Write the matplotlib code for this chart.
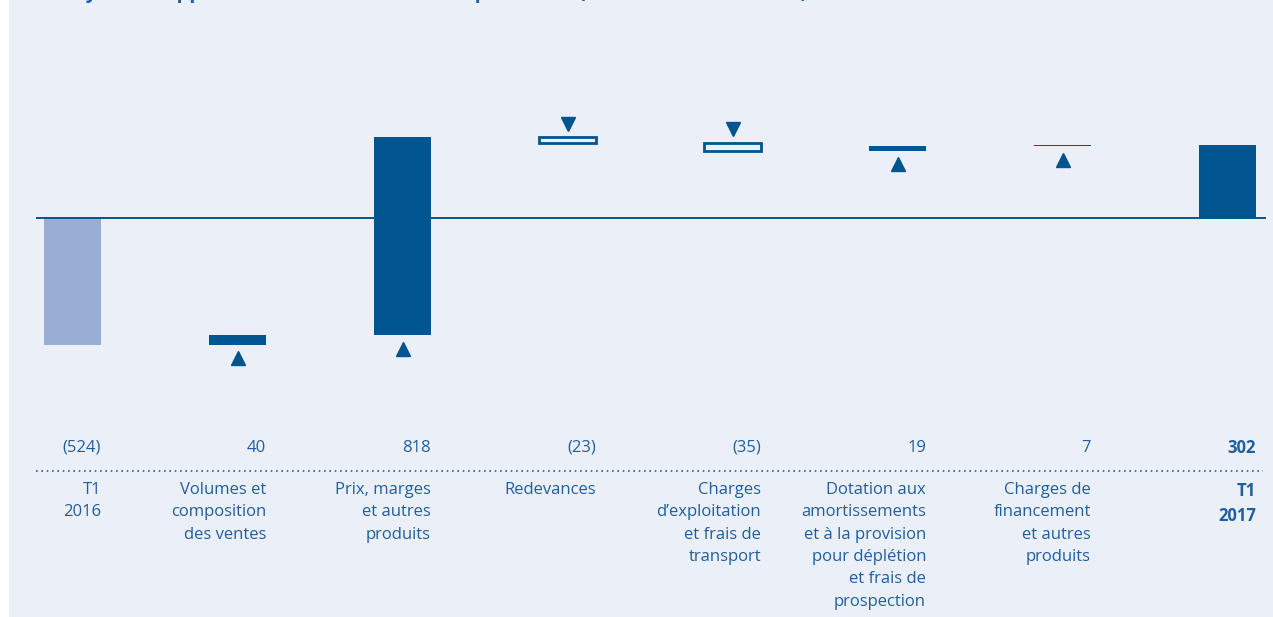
#!/usr/bin/env python3
"""Waterfall: rapprochement du résultat d'exploitation T1 2016 -> T1 2017."""
import matplotlib

matplotlib.use("Agg")
import matplotlib.pyplot as plt
from matplotlib.patches import Rectangle
from matplotlib.transforms import blended_transform_factory

plt.rcParams["font.family"] = ["Open Sans", "DejaVu Sans"]

CATEGORIES = [
    "T1\n2016",
    "Volumes et\ncomposition\ndes ventes",
    "Prix, marges\net autres\nproduits",
    "Redevances",
    "Charges\nd\u2019exploitation\net frais de\ntransport",
    "Dotation aux\namortissements\net à la provision\npour déplétion\net frais de\nprospection",
    "Charges de\nfinancement\net autres\nproduits",
    "T1\n2017",
]
VALUES = [-524, 40, 818, -23, -35, 19, 7, 302]
VALUE_LABELS = ["(524)", "40", "818", "(23)", "(35)", "19", "7", "302"]
KINDS = ["start", "delta", "delta", "delta", "delta", "delta", "delta", "total"]

BG = "#ebf0f8"
DARK = "#00548f"
LIGHT = "#99aed4"
TEXT = "#1f5f9f"

W, H = 1273, 617
fig = plt.figure(figsize=(W / 100, H / 100), dpi=100)
fig.patch.set_facecolor("white")
bg = Rectangle((9 / W, 0), 1 - 9 / W, 1, transform=fig.transFigure,
               facecolor=BG, edgecolor="none", zorder=-10)
fig.patches.append(bg)

ax = fig.add_axes([0, 0, 1, 1])
ax.set_facecolor("none")
ax.axis("off")
# pixel layout -> data limits (bar spacing 165 px, 0.2424 px per million)
px_per_unit = 0.2424
ax.set_xlim((0 - 72.5) / 165, (W - 72.5) / 165)
ax.set_ylim((218 - H) / px_per_unit, 218 / px_per_unit)

bw = 57 / 165
tri_gap = 55
running = 0
for i, (v, kind) in enumerate(zip(VALUES, KINDS)):
    if kind == "start":
        ax.bar(i, v, bottom=0, width=bw, color=LIGHT, zorder=2)
        running = v
    elif kind == "total":
        ax.bar(i, v, bottom=0, width=bw, color=DARK, zorder=2)
    else:
        lo, hi = sorted([running, running + v])
        if v >= 0:
            ax.bar(i, v, bottom=running, width=bw, color=DARK, zorder=2)
            ax.plot(i, lo - tri_gap, marker="^", ms=10.5, color=DARK, zorder=3)
        else:
            ax.bar(i, v, bottom=running, width=bw, facecolor=BG, edgecolor=DARK,
                   linewidth=2, zorder=2)
            ax.plot(i, hi + tri_gap, marker="v", ms=10.5, color=DARK, zorder=3)
        running += v

# zero line
ax.plot([(37 - 72.5) / 165, (1265 - 72.5) / 165], [0, 0], color=DARK, lw=1.4, zorder=4)

tr = blended_transform_factory(ax.transData, ax.transAxes)
for i, (lab, cat) in enumerate(zip(VALUE_LABELS, CATEGORIES)):
    bold = "bold" if KINDS[i] == "total" else "normal"
    ax.text(i + bw / 2, 1 - 448 / H, lab, transform=tr, ha="right", va="center",
            fontsize=12, color=TEXT, fontweight=bold)
    ax.text(i + bw / 2, 1 - 482 / H, cat, transform=tr, ha="right", va="top",
            fontsize=12, color=TEXT, fontweight=bold, linespacing=1.53,
            multialignment="right")

ax.plot([(36 - 72.5) / 165, (1263 - 72.5) / 165], [1 - 471 / H] * 2, transform=tr,
        color=TEXT, lw=1.2, linestyle=(0, (1, 2.2)))

fig.text(40 / W, 1.0 + 2 / H, "Analyse du rapprochement du résultat d\u2019exploitation (en millions de dollars)",
         ha="left", va="baseline", fontsize=14.5, fontweight="bold", color=TEXT)

fig.savefig("out.png", dpi=100)
